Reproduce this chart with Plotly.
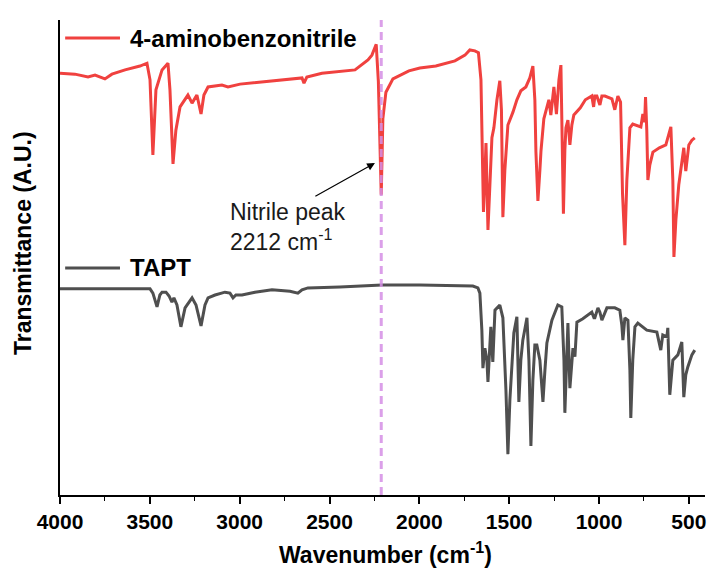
import plotly.graph_objects as go

# ---- data (wavenumber in cm^-1, transmittance in arbitrary units) ----
abn_wavenumber = [4000, 3917, 3844, 3805, 3750, 3711, 3638, 3555, 3516, 3499, 3483, 3466, 3432, 3399, 3388,
                  3371, 3355, 3332, 3288, 3265, 3238, 3215, 3199, 3176, 3099, 3065, 2998, 2887, 2776, 2653,
                  2642, 2626, 2542, 2442, 2358, 2286, 2264, 2240, 2228, 2212, 2203, 2186, 2147, 2058, 1997,
                  1908, 1802, 1746, 1719, 1691, 1671, 1657, 1652, 1643, 1635, 1629, 1618, 1607, 1596, 1585,
                  1568, 1552, 1543, 1535, 1524, 1507, 1479, 1457, 1435, 1407, 1385, 1368, 1357, 1351, 1340,
                  1329, 1323, 1307, 1279, 1268, 1251, 1237, 1223, 1212, 1207, 1198, 1190, 1184, 1173, 1162,
                  1151, 1140, 1104, 1076, 1040, 1030, 1023, 1012, 995, 984, 967, 928, 912, 895, 880,
                  869, 856, 845, 828, 812, 767, 756, 746, 741, 734, 728, 717, 700, 664, 628,
                  600, 589, 583, 572, 556, 528, 517, 500, 483, 467]
abn_transmittance = [88.8, 88.6, 88.0, 88.4, 87.6, 88.6, 89.5, 90.3, 90.9, 87.4, 71.6, 85.3, 89.5, 90.9, 85.3,
                     69.7, 76.8, 81.7, 84.2, 82.5, 84.2, 80.2, 84.2, 85.9, 86.3, 85.9, 86.5, 86.9, 87.4, 87.8,
                     86.7, 88.0, 88.8, 89.1, 89.5, 91.6, 92.6, 94.9, 87.0, 63.2, 79.2, 84.8, 87.6, 89.3, 89.9,
                     90.3, 91.4, 92.6, 93.7, 93.5, 93.1, 87.4, 79.2, 59.6, 67.4, 74.1, 55.8, 66.3, 75.2, 77.3,
                     83.2, 87.2, 81.1, 58.5, 68.4, 77.9, 80.6, 83.2, 85.1, 85.9, 87.8, 90.3, 83.2, 72.2, 61.9,
                     68.4, 72.4, 79.2, 83.2, 80.0, 85.9, 80.2, 87.4, 90.5, 78.9, 59.2, 72.6, 77.3, 78.9, 73.7,
                     77.9, 80.0, 81.5, 83.2, 84.0, 81.7, 84.0, 84.0, 82.1, 84.0, 84.0, 83.4, 81.1, 84.0, 82.7,
                     63.4, 52.6, 66.3, 77.3, 78.1, 77.5, 80.2, 78.5, 83.8, 76.8, 66.3, 69.5, 72.2, 73.1, 73.7,
                     77.5, 66.3, 50.1, 57.9, 65.3, 73.1, 68.2, 73.7, 74.7, 75.2]

tapt_wavenumber = [4000, 3777, 3610, 3499, 3483, 3460, 3444, 3432, 3410, 3393, 3377, 3366, 3349, 3327, 3304,
                   3265, 3243, 3215, 3193, 3176, 3137, 3082, 3054, 3037, 3021, 2987, 2915, 2820, 2720, 2676,
                   2653, 2620, 2442, 2208, 1997, 1702, 1674, 1663, 1652, 1646, 1635, 1624, 1618, 1607, 1602,
                   1591, 1579, 1552, 1535, 1518, 1507, 1496, 1474, 1457, 1446, 1435, 1424, 1401, 1390, 1379,
                   1368, 1357, 1346, 1329, 1312, 1301, 1290, 1262, 1229, 1207, 1195, 1190, 1179, 1173, 1162,
                   1145, 1134, 1123, 1090, 1040, 1028, 1023, 1006, 995, 984, 956, 912, 884, 873, 867,
                   856, 839, 828, 823, 812, 800, 784, 734, 678, 661, 656, 645, 622, 617, 611,
                   606, 589, 561, 539, 533, 528, 517, 506, 483, 467]
tapt_transmittance = [43.4, 43.4, 43.4, 43.4, 42.5, 39.6, 42.1, 42.7, 42.7, 41.9, 40.6, 41.5, 40.0, 35.4, 39.4,
                      41.5, 40.0, 35.6, 40.0, 41.5, 42.1, 42.7, 42.5, 41.5, 42.1, 42.1, 42.7, 43.2, 42.9, 42.5,
                      43.2, 43.6, 43.8, 44.2, 44.2, 44.0, 43.6, 42.5, 34.7, 26.7, 30.9, 28.4, 23.8, 32.6, 35.4,
                      28.0, 38.9, 40.0, 37.3, 22.1, 8.6, 20.0, 34.1, 37.5, 19.6, 28.4, 32.6, 37.3, 28.4, 10.3,
                      24.2, 31.6, 31.6, 28.4, 19.6, 26.3, 32.0, 36.8, 40.0, 39.6, 28.4, 17.3, 30.5, 36.2, 22.5,
                      30.9, 29.1, 36.4, 37.1, 38.5, 37.3, 37.3, 39.4, 38.5, 36.8, 39.4, 39.4, 38.9, 35.8, 32.6,
                      37.3, 36.8, 26.3, 16.2, 28.4, 35.4, 36.2, 34.7, 34.3, 31.6, 30.5, 33.7, 33.3, 35.2, 28.4,
                      21.1, 28.4, 29.5, 32.2, 26.3, 20.6, 25.3, 26.9, 29.5, 30.5]

series_names = ["4-aminobenzonitrile", "TAPT"]
nitrile_peak = 2212
x_ticks = [4000, 3500, 3000, 2500, 2000, 1500, 1000, 500]
x_range = [4000, 410]
y_range = [0, 100]

RED = "#f0413f"
GRAY = "#4f4f4f"
VIOLET = "#d58fe6"
FONT = "Liberation Sans, Arial, sans-serif"

fig = go.Figure()
fig.add_trace(go.Scatter(x=abn_wavenumber, y=abn_transmittance, mode="lines",
                         line=dict(color=RED, width=3), name=series_names[0], showlegend=False))
fig.add_trace(go.Scatter(x=tapt_wavenumber, y=tapt_transmittance, mode="lines",
                         line=dict(color=GRAY, width=3), name=series_names[1], showlegend=False))
fig.add_trace(go.Scatter(x=[nitrile_peak, nitrile_peak], y=y_range, mode="lines",
                         line=dict(color=VIOLET, width=3, dash="8px,5px"), opacity=0.85,
                         showlegend=False, hoverinfo="skip"))

# legend-style labels placed next to each curve
for yp, name, col in [(0.962, series_names[0], RED), (0.478, series_names[1], GRAY)]:
    fig.add_shape(type="line", xref="paper", yref="paper", x0=0.008, x1=0.093, y0=yp, y1=yp,
                  line=dict(color=col, width=3))
    fig.add_annotation(xref="paper", yref="paper", x=0.1054, y=yp, xanchor="left", yanchor="middle",
                       text="<b>%s</b>" % name, showarrow=False,
                       font=dict(family=FONT, size=24, color="black"))

# nitrile annotation
fig.add_annotation(x=2247, y=69.9, ax=2587, ay=62.7, axref="x", ayref="y", xref="x", yref="y",
                   text="", showarrow=True, arrowhead=2, arrowsize=1.3, arrowwidth=1.2, arrowcolor="black")
fig.add_annotation(x=3065, y=56.5, xref="x", yref="y", xanchor="left", yanchor="middle", align="left",
                   text="Nitrile peak<br>2212 cm<sup>-1</sup>", showarrow=False,
                   font=dict(family=FONT, size=23, color="#1a1a1a"))

# axis titles
fig.add_annotation(xref="paper", yref="paper", x=-0.0574, y=0.5305, xanchor="center", yanchor="middle",
                   textangle=-90, text="<b>Transmittance (A.U.)</b>", showarrow=False,
                   font=dict(family=FONT, size=23, color="black"))
fig.add_annotation(xref="paper", yref="paper", x=0.504, y=-0.122, xanchor="center", yanchor="middle",
                   text="<b>Wavenumber (cm<sup>-1</sup>)</b>", showarrow=False,
                   font=dict(family=FONT, size=23, color="black"))

fig.update_layout(
    width=707, height=574,
    margin=dict(l=60, r=2, t=20, b=79),
    plot_bgcolor="white", paper_bgcolor="white",
    font=dict(family=FONT, color="black"),
    showlegend=False,
    xaxis=dict(range=x_range, tickvals=x_ticks, ticktext=["<b>%d</b>" % v for v in x_ticks],
               tickfont=dict(family=FONT, size=21, color="black"),
               showline=True, linecolor="black", linewidth=1.5, ticks="outside", ticklen=7,
               tickwidth=1.5, tickcolor="black", showgrid=False, zeroline=False,
               minor=dict(ticks="outside", dtick=250, tick0=500, ticklen=4, tickwidth=1.2,
                          tickcolor="black", showgrid=False)),
    yaxis=dict(range=y_range, showline=True, linecolor="black", linewidth=1.5, ticks="",
               showticklabels=False, showgrid=False, zeroline=False),
)

fig.write_html("out.html", config={"displayModeBar": False},
               post_script="document.body.style.margin='0';document.body.style.overflow='hidden';")
